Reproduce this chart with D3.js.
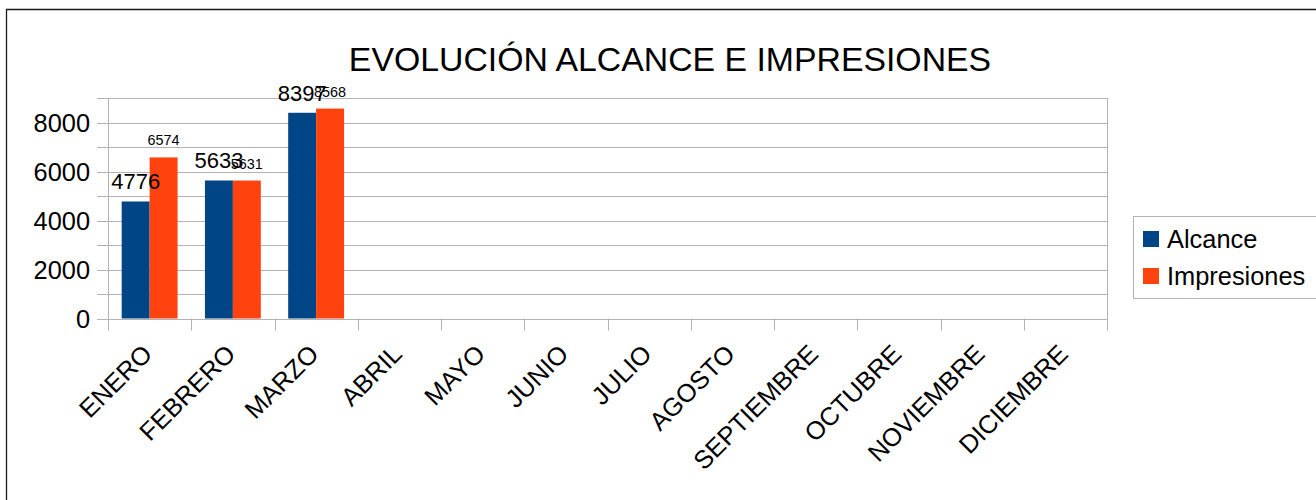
<!DOCTYPE html>
<html>
<head>
<meta charset="utf-8">
<script src="https://cdn.jsdelivr.net/npm/d3@7"></script>
<style>
  body { margin: 0; background: #fff; }
  svg { font-family: "Liberation Sans", Arial, sans-serif; display: block; }
</style>
</head>
<body>
<svg id="chart" width="1316" height="500"></svg>
<script>
const months = ['ENERO', 'FEBRERO', 'MARZO', 'ABRIL', 'MAYO', 'JUNIO', 'JULIO',
  'AGOSTO', 'SEPTIEMBRE', 'OCTUBRE', 'NOVIEMBRE', 'DICIEMBRE']
const alcance = [4776, 5633, 8397]
const impresiones = [6574, 5631, 8568]
const yTicks = [0, 2000, 4000, 6000, 8000]
const seriesNames = ['Alcance', 'Impresiones']
const colors = ['#004586', '#ff420e']

const svg = d3.select('#chart')
const plot = { left: 108, right: 1107, top: 98, bottom: 318.5 }

// outer frame (cut off on the right/bottom)
svg.append('path')
  .attr('d', 'M6.5,600 L6.5,9.5 L1400,9.5')
  .attr('fill', 'none')
  .attr('stroke', '#1a1a1a')
  .attr('stroke-width', 1.3)

svg.append('text')
  .attr('x', 670).attr('y', 71)
  .attr('text-anchor', 'middle')
  .style('font-size', '33.8px')
  .text('EVOLUCIÓN ALCANCE E IMPRESIONES')

const x = d3.scaleBand().domain(months).range([plot.left, plot.right])
const y = d3.scaleLinear().domain([0, 9000]).range([plot.bottom, plot.top])

const grid = svg.append('g').attr('stroke', '#b3b3b3').attr('stroke-width', 1)
d3.range(0, 9001, 1000).forEach(v => {
  grid.append('line')
    .attr('x1', plot.left - 11).attr('x2', plot.right)
    .attr('y1', Math.round(y(v)) + 0.5).attr('y2', Math.round(y(v)) + 0.5)
})
grid.append('line')
  .attr('x1', plot.left + 0.5).attr('x2', plot.left + 0.5)
  .attr('y1', plot.top).attr('y2', plot.bottom + 12)
grid.append('line')
  .attr('x1', plot.right + 0.5).attr('x2', plot.right + 0.5)
  .attr('y1', plot.top).attr('y2', plot.bottom + 12)
months.forEach(m => {
  grid.append('line')
    .attr('x1', Math.round(x(m)) + 0.5).attr('x2', Math.round(x(m)) + 0.5)
    .attr('y1', plot.bottom).attr('y2', plot.bottom + 12)
})

svg.append('g').selectAll('text')
  .data(yTicks).enter().append('text')
  .attr('x', 90).attr('y', d => y(d) + 9)
  .attr('text-anchor', 'end')
  .style('font-size', '25.4px')
  .text(d => d)

const inner = d3.scaleBand().domain(seriesNames)
  .range([0, x.bandwidth()]).paddingInner(0).paddingOuter(0.49)

const series = [alcance, impresiones]
const bars = svg.append('g')
const labels = svg.append('g')
series.forEach((vals, si) => {
  bars.append('g').selectAll('rect').data(vals).enter().append('rect')
    .attr('x', (d, i) => x(months[i]) + inner(seriesNames[si]))
    .attr('width', inner.bandwidth())
    .attr('y', d => y(d))
    .attr('height', d => y(0) - y(d))
    .attr('fill', colors[si])
})
// value labels, drawn above all bars
;[1, 0].forEach(si => {
  labels.append('g').selectAll('text').data(series[si]).enter().append('text')
    .attr('x', (d, i) => x(months[i]) + inner(seriesNames[si]) + inner.bandwidth() / 2)
    .attr('y', d => y(d) - 12)
    .attr('text-anchor', 'middle')
    .style('font-size', si === 0 ? '22px' : '14.4px')
    .text(d => d)
})

svg.append('g').selectAll('text')
  .data(months).enter().append('text')
  .attr('transform', d => `translate(${x(d) + x.bandwidth() / 2 + 4},${plot.bottom + 37}) rotate(-45)`)
  .attr('text-anchor', 'end')
  .style('font-size', '25.4px')
  .text(d => d)

// legend
const legend = svg.append('g')
legend.append('rect')
  .attr('x', 1133.5).attr('y', 216.5)
  .attr('width', 300).attr('height', 82)
  .attr('fill', 'none').attr('stroke', '#b3b3b3')
seriesNames.forEach((name, i) => {
  legend.append('rect')
    .attr('x', 1143).attr('y', 231 + i * 37)
    .attr('width', 16).attr('height', 16)
    .attr('fill', colors[i])
  legend.append('text')
    .attr('x', 1167).attr('y', 248 + i * 37)
    .style('font-size', '25.4px')
    .text(name)
})
</script>
</body>
</html>
